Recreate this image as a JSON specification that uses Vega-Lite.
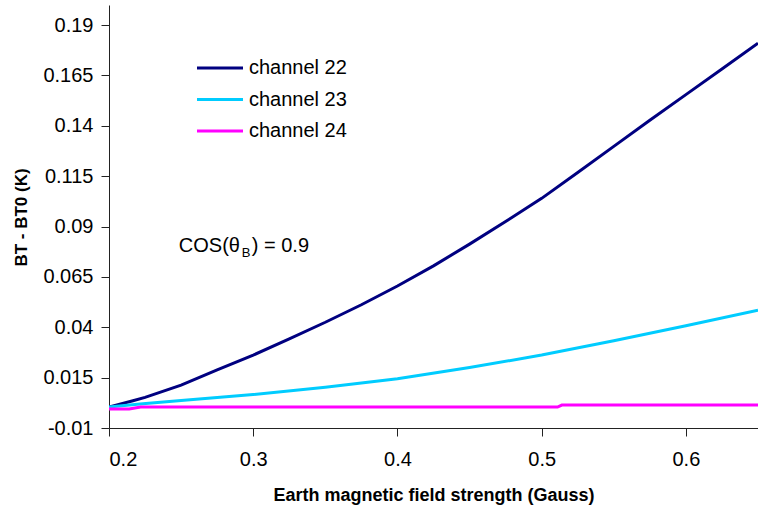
{
  "$schema": "https://vega.github.io/schema/vega-lite/v6.json",
  "width": 649,
  "height": 423,
  "autosize": "none",
  "padding": {"left": 109, "top": 5, "right": 0, "bottom": 80},
  "background": "white",
  "config": {
    "view": {"stroke": null},
    "font": "Liberation Sans",
    "axis": {
      "grid": false,
      "domainColor": "#222222",
      "tickColor": "#222222",
      "domainWidth": 1,
      "tickWidth": 1,
      "tickSize": 8,
      "labelFont": "Liberation Sans",
      "labelFontSize": 20,
      "labelColor": "#000000",
      "titleFont": "Liberation Sans",
      "titleColor": "#000000",
      "titleFontWeight": "bold"
    }
  },
  "layer": [
    {
      "data": {
        "values": [
          {"B": 0.2, "dBT": 0.0004, "channel": "channel 22"},
          {"B": 0.2166, "dBT": 0.0035, "channel": "channel 22"},
          {"B": 0.225, "dBT": 0.0052, "channel": "channel 22"},
          {"B": 0.25, "dBT": 0.0113, "channel": "channel 22"},
          {"B": 0.275, "dBT": 0.0188, "channel": "channel 22"},
          {"B": 0.3, "dBT": 0.0262, "channel": "channel 22"},
          {"B": 0.325, "dBT": 0.0343, "channel": "channel 22"},
          {"B": 0.35, "dBT": 0.0425, "channel": "channel 22"},
          {"B": 0.375, "dBT": 0.0512, "channel": "channel 22"},
          {"B": 0.4, "dBT": 0.0605, "channel": "channel 22"},
          {"B": 0.425, "dBT": 0.0705, "channel": "channel 22"},
          {"B": 0.45, "dBT": 0.0813, "channel": "channel 22"},
          {"B": 0.475, "dBT": 0.0925, "channel": "channel 22"},
          {"B": 0.5, "dBT": 0.104, "channel": "channel 22"},
          {"B": 0.525, "dBT": 0.1168, "channel": "channel 22"},
          {"B": 0.55, "dBT": 0.1298, "channel": "channel 22"},
          {"B": 0.575, "dBT": 0.1428, "channel": "channel 22"},
          {"B": 0.6, "dBT": 0.1555, "channel": "channel 22"},
          {"B": 0.625, "dBT": 0.1682, "channel": "channel 22"},
          {"B": 0.65, "dBT": 0.181, "channel": "channel 22"},

          {"B": 0.2, "dBT": 0.0004, "channel": "channel 23"},
          {"B": 0.2215, "dBT": 0.0019, "channel": "channel 23"},
          {"B": 0.25, "dBT": 0.0036, "channel": "channel 23"},
          {"B": 0.3, "dBT": 0.0066, "channel": "channel 23"},
          {"B": 0.35, "dBT": 0.0102, "channel": "channel 23"},
          {"B": 0.4, "dBT": 0.0145, "channel": "channel 23"},
          {"B": 0.45, "dBT": 0.02, "channel": "channel 23"},
          {"B": 0.5, "dBT": 0.0262, "channel": "channel 23"},
          {"B": 0.55, "dBT": 0.0333, "channel": "channel 23"},
          {"B": 0.6, "dBT": 0.0408, "channel": "channel 23"},
          {"B": 0.65, "dBT": 0.0485, "channel": "channel 23"},

          {"B": 0.2, "dBT": -0.0006, "channel": "channel 24"},
          {"B": 0.214, "dBT": -0.0006, "channel": "channel 24"},
          {"B": 0.222, "dBT": 0.0004, "channel": "channel 24"},
          {"B": 0.511, "dBT": 0.0004, "channel": "channel 24"},
          {"B": 0.514, "dBT": 0.0014, "channel": "channel 24"},
          {"B": 0.65, "dBT": 0.0014, "channel": "channel 24"}
        ]
      },
      "mark": {"type": "line", "strokeWidth": 3, "clip": true},
      "encoding": {
        "x": {
          "field": "B",
          "type": "quantitative",
          "scale": {"domain": [0.2, 0.65], "nice": false, "zero": false},
          "axis": {
            "values": [0.2, 0.3, 0.4, 0.5, 0.6],
            "format": ".1f",
            "labelPadding": 13,
            "title": "Earth magnetic field strength (Gauss)",
            "titleFontSize": 18,
            "titleX": 324.5,
            "titleY": 72,
            "titleAlign": "center",
            "titleBaseline": "alphabetic"
          }
        },
        "y": {
          "field": "dBT",
          "type": "quantitative",
          "scale": {"domain": [-0.01, 0.2], "nice": false, "zero": false},
          "axis": {
            "values": [-0.01, 0.015, 0.04, 0.065, 0.09, 0.115, 0.14, 0.165, 0.19],
            "labelExpr": "replace(format(datum.value, '~g'), '\u2212', '-')",
            "labelPadding": 8,
            "title": "BT - BT0 (K)",
            "titleFontSize": 17,
            "titleAngle": 270,
            "titleX": -83,
            "titleY": 212,
            "titleAlign": "center",
            "titleBaseline": "alphabetic"
          }
        },
        "color": {
          "field": "channel",
          "type": "nominal",
          "scale": {
            "domain": ["channel 22", "channel 23", "channel 24"],
            "range": ["#000080", "#00CCFF", "#FF00FF"]
          },
          "legend": {
            "title": null,
            "orient": "none",
            "legendX": 99.5,
            "legendY": 51.5,
            "symbolType": "M-2.3,0H2.3",
            "symbolSize": 400,
            "symbolStrokeWidth": 3,
            "labelFont": "Liberation Sans",
            "labelFontSize": 20,
            "labelColor": "#000000",
            "labelOffset": 17.5,
            "rowPadding": 9.5
          }
        }
      }
    },
    {
      "data": {
        "values": [
          {"B": 0.2484, "dBT": 0.0773, "t": "COS(θ"},
          {"B": 0.299, "dBT": 0.0773, "t": ") = 0.9"}
        ]
      },
      "mark": {"type": "text", "align": "left", "baseline": "alphabetic", "fontSize": 20, "font": "Liberation Sans", "color": "#000000"},
      "encoding": {
        "x": {"field": "B", "type": "quantitative"},
        "y": {"field": "dBT", "type": "quantitative"},
        "text": {"field": "t"}
      }
    },
    {
      "data": {
        "values": [
          {"B": 0.292, "dBT": 0.0748, "t": "B"}
        ]
      },
      "mark": {"type": "text", "align": "left", "baseline": "alphabetic", "fontSize": 13, "font": "Liberation Sans", "color": "#000000"},
      "encoding": {
        "x": {"field": "B", "type": "quantitative"},
        "y": {"field": "dBT", "type": "quantitative"},
        "text": {"field": "t"}
      }
    }
  ]
}
